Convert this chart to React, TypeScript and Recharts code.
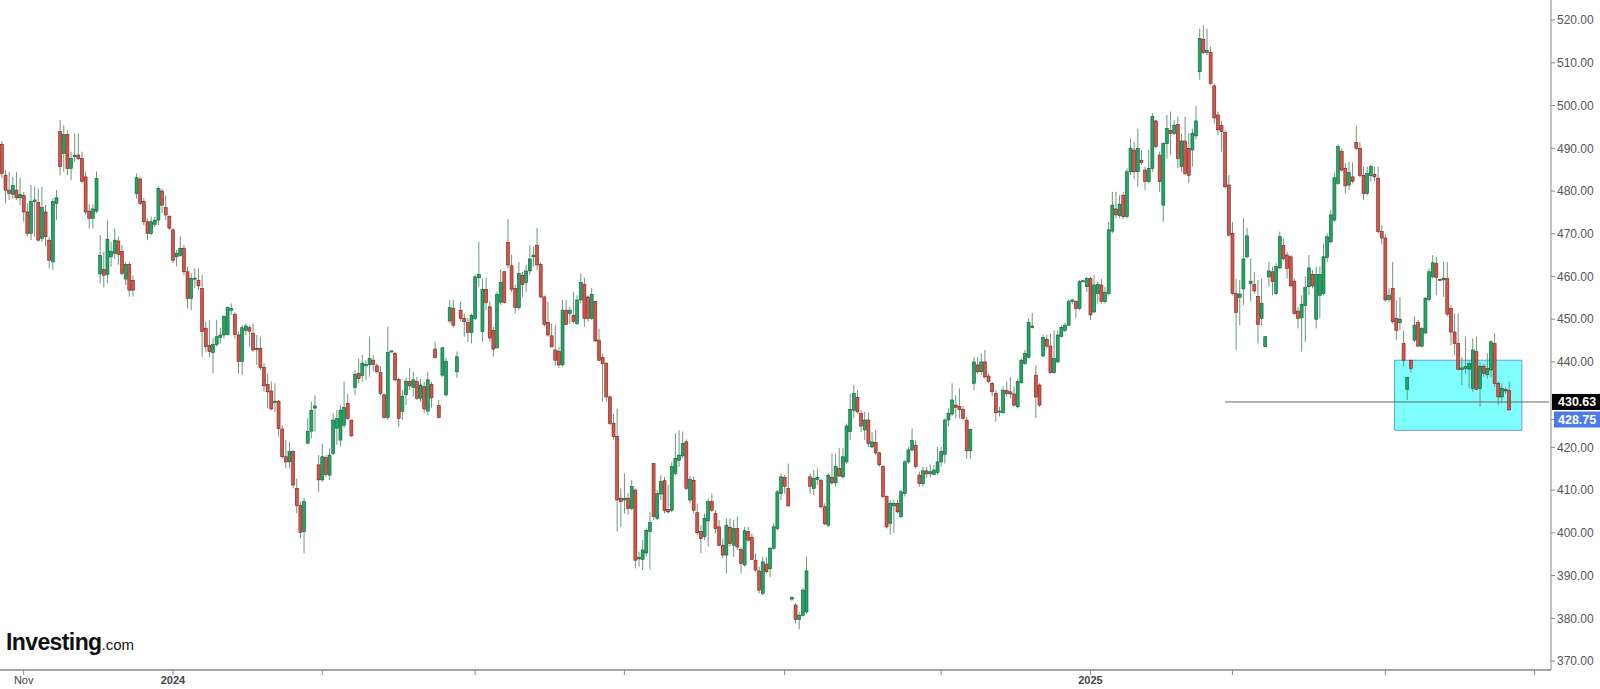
import React from 'react';
import { ComposedChart, Bar, XAxis, YAxis, ReferenceLine, ReferenceArea } from 'recharts';

// ---- Daily OHLC values (Oct 24 2023 .. Jun 20 2025) ----
const OPEN = [
  490.9,483.7,480.2,479.2,480.2,478.4,479.0,475.1,470.1,477.5,
  477.3,468.9,475.1,468.5,463.4,477.1,493.9,488.8,493.2,485.3,
  488.0,488.4,487.6,483.3,475.3,473.6,475.3,460.6,461.6,460.5,
  464.6,465.4,468.3,465.8,459.4,462.8,459.1,479.4,482.8,477.5,
  472.8,470.1,472.2,473.2,480.0,476.1,474.0,470.9,464.6,464.9,
  466.6,461.1,454.9,459.5,459.1,457.2,447.9,443.8,442.2,444.1,
  445.7,446.3,446.4,452.1,451.1,446.3,440.1,447.4,448.0,446.7,
  443.2,443.2,438.7,434.7,433.2,430.5,430.8,424.3,417.8,416.6,
  419.0,410.4,406.4,400.3,421.0,423.8,429.2,415.9,412.4,417.6,
  413.5,418.6,424.5,421.7,425.2,430.3,426.4,434.0,437.3,436.8,
  439.1,439.3,440.4,439.1,437.5,432.3,427.0,442.3,442.0,435.9,
  428.4,432.3,435.4,434.0,435.4,431.5,434.2,428.5,434.7,443.0,
  429.8,436.9,432.3,449.6,452.5,437.7,452.1,450.2,449.2,446.9,
  450.2,459.7,447.1,457.0,452.9,447.4,443.3,454.0,461.1,468.0,
  462.5,457.2,452.7,460.3,458.6,461.3,464.6,467.3,462.8,455.2,
  449.2,446.1,442.8,442.5,439.3,452.1,451.3,450.9,449.0,454.5,
  458.1,455.2,450.2,454.1,445.1,441.0,439.6,431.8,425.6,422.6,
  408.1,407.7,408.1,405.7,410.0,393.9,393.8,395.3,400.3,416.2,
  403.4,409.1,412.2,405.5,405.3,413.9,417.0,418.0,421.3,407.7,
  412.3,404.7,400.3,399.1,402.8,407.3,404.5,401.4,397.1,394.8,
  401.3,397.1,401.0,396.1,392.5,400.3,398.9,393.6,391.1,385.8,
  392.7,391.6,396.4,401.0,409.2,413.0,410.4,384.5,383.1,379.7,
  380.7,381.5,413.1,410.4,412.5,412.3,406.1,401.8,413.0,411.7,
  415.1,413.1,416.6,423.7,428.7,431.7,427.9,424.1,426.4,420.1,
  421.1,418.7,415.5,408.5,402.2,406.3,406.9,403.8,409.2,416.6,
  419.4,420.5,413.5,411.5,414.5,413.8,413.7,414.1,416.6,418.4,
  426.4,427.8,429.9,429.6,428.9,426.4,419.2,435.0,439.3,437.7,
  440.0,436.7,435.0,432.6,428.3,428.1,433.3,433.0,432.5,429.5,
  435.1,439.6,441.1,448.4,436.9,434.6,441.4,445.3,443.7,437.5,
  440.0,446.0,447.4,448.6,454.2,454.1,452.5,458.8,457.6,459.5,
  451.7,456.0,458.0,454.1,456.0,470.6,475.8,474.2,479.0,474.0,
  484.5,489.6,484.5,487.2,484.9,482.2,485.3,496.4,488.4,476.7,
  491.1,494.2,493.5,495.6,485.7,491.7,490.0,489.6,492.9,507.9,
  515.5,512.4,512.4,504.6,497.8,495.3,493.7,481.4,470.1,456.0,
  455.1,457.1,464.6,458.4,458.1,455.3,450.2,443.6,459.9,461.1,
  456.0,462.0,467.3,465.0,464.6,458.9,451.9,450.3,453.2,457.6,
  460.5,450.0,455.6,456.0,464.4,468.1,473.2,481.8,489.3,485.3,
  481.4,483.3,491.4,490.0,483.7,479.4,483.6,483.9,483.0,470.5,
  469.0,454.6,457.2,450.2,449.2,444.3,433.6,440.4,445.1,449.2,
  443.7,446.8,454.6,459.9,463.1,459.3,459.2,459.5,452.5,447.0,
  444.3,438.2,438.5,438.3,433.8,442.4,433.8,439.0,437.0,438.1,
  444.3,435.0,431.8,433.5,433.3,
];
const HIGH = [
  491.7,484.9,484.5,483.3,484.5,483.1,479.8,477.1,481.4,481.0,
  480.6,481.0,476.7,469.3,478.3,480.2,496.6,495.4,494.2,489.2,
  493.5,493.5,489.2,484.5,476.9,476.9,484.6,469.7,465.8,473.2,
  468.1,471.2,469.3,467.3,463.4,463.4,460.3,484.1,483.3,478.3,
  473.6,474.0,474.0,481.0,480.5,479.0,474.4,471.3,466.2,469.3,
  467.4,462.3,460.7,461.9,461.9,460.3,449.4,449.8,445.5,449.8,
  448.0,451.0,452.9,453.7,451.7,447.1,448.6,449.0,448.6,449.0,
  446.3,445.9,439.7,437.3,435.4,435.0,431.1,425.2,421.7,421.3,
  419.4,412.7,407.3,408.1,426.8,430.7,432.2,418.2,420.9,418.2,
  419.8,427.9,428.7,429.9,435.4,432.6,426.4,438.1,440.8,441.6,
  440.4,445.9,441.6,439.7,438.9,432.6,448.2,442.6,442.4,436.3,
  433.4,436.3,438.6,437.7,436.5,436.1,435.4,437.7,435.4,444.7,
  431.1,443.5,441.0,454.5,454.5,442.4,454.2,451.3,450.3,451.3,
  460.5,468.1,459.5,459.7,454.2,448.2,456.4,461.7,461.3,473.4,
  465.1,458.1,463.4,461.1,462.7,467.3,466.9,471.4,463.4,455.6,
  454.0,449.0,448.6,443.5,454.5,454.5,452.9,456.4,455.6,460.7,
  459.7,455.6,457.3,454.2,447.8,442.0,440.0,432.2,427.9,429.1,
  410.4,413.9,409.2,412.4,410.4,395.6,398.3,401.0,404.9,416.2,
  410.0,413.5,413.1,411.2,416.6,423.3,424.0,423.7,421.9,413.3,
  413.1,406.9,401.8,404.5,408.1,409.2,405.3,403.0,398.7,403.4,
  403.4,403.0,403.8,396.7,401.4,401.4,399.9,395.2,392.1,394.4,
  394.4,396.7,402.2,410.0,413.9,413.5,416.2,385.0,383.5,381.5,
  387.0,394.4,413.9,414.7,415.1,412.7,406.9,413.9,418.6,418.6,
  419.8,419.8,425.6,432.6,434.6,433.4,428.7,428.3,428.1,423.6,
  424.0,419.0,415.9,408.8,407.7,407.7,407.7,410.0,417.0,420.1,
  424.4,421.7,414.3,415.5,415.5,416.0,415.9,420.1,420.1,426.8,
  429.1,435.0,432.2,433.8,429.6,427.2,424.4,441.2,441.2,442.0,
  442.8,437.3,435.4,433.4,429.5,434.2,435.4,436.5,434.2,436.1,
  440.8,442.8,450.2,451.5,439.2,435.0,446.3,446.3,446.6,447.4,
  447.4,448.6,449.2,454.5,454.8,454.5,459.2,459.2,459.9,459.9,
  460.3,458.8,459.5,457.6,472.8,479.8,479.8,479.0,479.8,485.3,
  492.3,491.5,494.6,489.6,485.7,489.6,498.2,496.6,489.2,491.5,
  497.8,498.6,496.6,497.4,493.5,497.4,493.5,494.6,499.9,518.0,
  518.8,518.0,513.8,505.2,498.6,496.4,494.2,483.7,472.8,459.5,
  459.2,473.6,471.4,464.2,461.1,459.2,459.5,446.0,463.4,462.3,
  463.1,470.5,468.9,465.8,465.0,459.5,452.9,455.6,460.0,465.0,
  461.5,462.3,462.3,467.7,470.1,475.6,484.3,490.9,490.0,486.5,
  486.8,486.7,495.3,491.5,485.7,485.7,486.1,485.7,485.7,472.0,
  470.0,457.2,463.4,454.5,455.2,447.4,436.5,440.5,450.6,449.8,
  448.2,455.2,461.9,465.0,464.6,459.5,463.4,463.4,453.3,451.3,
  451.3,441.2,445.9,440.4,445.5,445.9,440.0,439.6,442.0,445.1,
  446.7,435.4,435.0,434.0,435.4,
];
const LOW = [
  483.0,477.1,477.9,478.3,477.9,476.7,472.8,469.3,468.5,469.3,
  468.1,468.1,467.0,461.9,461.5,473.2,483.7,484.5,483.7,482.5,
  486.8,487.2,481.8,474.4,471.2,471.2,474.8,458.4,457.4,458.4,
  462.3,464.2,462.7,460.3,458.0,455.3,455.3,478.2,476.7,472.0,
  468.5,469.7,471.6,472.0,474.8,473.2,470.9,463.1,462.3,464.6,
  460.3,452.5,452.1,457.2,456.8,441.2,442.4,441.2,437.3,443.6,
  444.3,445.5,446.2,451.0,445.5,437.3,436.9,446.3,443.6,442.4,
  439.3,438.1,433.0,429.1,428.7,428.3,422.5,417.4,415.1,415.1,
  410.4,404.6,398.7,395.2,420.7,422.1,423.7,409.6,411.9,413.1,
  412.4,418.2,420.6,420.2,424.5,426.4,422.5,432.2,435.0,435.4,
  435.8,436.5,437.7,437.3,432.2,426.8,426.4,442.3,435.4,424.8,
  426.4,429.9,433.4,431.9,431.1,430.7,428.0,427.6,429.3,440.8,
  426.8,436.5,431.9,449.0,448.0,436.3,449.5,445.9,444.7,444.3,
  449.8,457.6,444.7,452.1,444.7,441.2,443.1,453.3,453.7,461.9,
  456.4,451.3,452.1,455.2,456.4,460.3,462.3,461.5,454.9,448.2,
  445.9,443.5,439.1,438.6,438.9,448.6,449.0,449.0,448.6,453.7,
  448.2,449.4,449.8,444.7,440.2,430.7,430.8,425.2,421.8,400.3,
  401.4,404.5,404.2,405.3,391.7,392.1,391.3,394.4,391.4,403.0,
  403.0,407.7,404.5,404.5,404.9,413.5,415.5,417.4,410.0,406.9,
  404.5,399.5,395.2,398.3,396.8,404.9,399.9,396.8,394.0,390.5,
  396.8,394.4,396.0,390.5,392.1,397.9,393.6,390.9,385.8,385.4,
  390.5,389.7,396.0,400.6,407.7,409.2,406.1,384.1,378.8,377.4,
  380.4,381.1,409.2,408.8,411.2,405.7,401.8,401.4,411.2,410.8,
  413.1,412.7,416.2,421.7,426.8,427.9,423.6,421.7,420.1,419.8,
  418.2,415.5,408.1,401.0,399.5,400.0,404.5,403.4,408.5,416.2,
  419.0,415.1,410.8,410.8,412.9,413.0,413.5,413.5,415.5,416.2,
  424.8,427.3,426.8,426.8,426.4,417.4,417.4,433.4,437.2,436.9,
  436.1,435.0,431.9,426.0,427.2,427.9,431.9,431.5,429.5,429.1,
  435.0,439.3,440.8,447.8,426.8,429.5,441.1,443.2,437.2,437.2,
  439.7,445.7,447.0,448.4,453.5,450.2,452.1,458.6,456.4,449.8,
  451.4,453.7,453.7,453.7,455.6,470.1,473.6,473.6,473.4,473.6,
  483.7,482.8,481.0,486.1,480.2,481.8,484.5,490.0,479.8,472.8,
  487.6,488.4,493.1,485.3,484.5,483.7,481.8,485.7,492.1,506.0,
  512.0,511.8,504.8,495.8,493.1,489.2,480.6,469.3,455.6,442.8,
  448.6,453.3,464.2,454.1,456.0,444.3,448.6,443.5,457.6,455.6,
  455.6,461.7,463.8,459.5,457.6,451.0,447.8,442.4,444.7,455.6,
  457.2,447.8,450.2,455.6,463.4,467.7,472.8,481.4,484.5,479.4,
  480.2,481.8,489.6,483.1,477.9,479.0,482.2,482.2,470.1,467.5,
  454.1,454.1,449.0,445.1,447.4,438.9,431.1,437.5,444.7,443.5,
  443.4,446.5,454.1,459.5,455.6,459.0,455.2,450.6,443.9,441.6,
  438.1,434.6,437.3,433.8,433.0,433.4,429.5,436.5,436.1,436.5,
  434.2,429.9,430.3,432.5,428.7,
];
const CLOSE = [
  484.1,480.2,479.4,481.3,478.4,479.2,475.1,470.1,477.5,477.9,
  468.5,476.1,469.3,463.8,477.5,478.4,485.7,493.2,485.3,487.6,
  488.4,487.6,482.3,475.1,473.6,475.8,482.9,464.9,460.3,468.7,
  465.8,468.5,465.2,460.7,462.8,456.8,456.8,483.1,477.1,472.8,
  470.1,472.8,473.2,480.6,476.7,474.4,471.3,463.8,465.4,466.6,
  461.1,454.9,459.5,459.6,457.8,447.1,443.6,442.4,444.1,445.9,
  446.3,450.6,452.7,452.5,446.4,440.1,448.0,448.4,447.2,442.8,
  442.9,438.7,434.4,433.0,429.0,430.8,424.4,417.8,416.6,419.0,
  411.2,406.4,400.1,407.3,423.7,428.7,429.7,412.4,417.8,413.7,
  418.2,426.4,426.8,428.7,429.3,426.8,422.7,437.1,436.1,439.7,
  439.4,440.8,439.4,437.7,432.6,427.0,442.2,442.6,435.8,426.8,
  432.0,435.5,434.4,435.8,431.5,434.6,429.0,435.8,431.6,441.0,
  427.0,443.3,440.1,452.7,448.6,441.2,450.2,449.4,446.9,450.9,
  459.9,460.5,457.0,453.9,445.6,443.0,455.8,458.6,453.9,462.7,
  457.0,452.7,460.7,458.1,461.3,464.1,465.0,462.7,455.2,448.8,
  446.3,443.5,440.4,439.3,452.1,448.8,452.1,449.5,454.5,458.6,
  450.2,450.2,455.8,444.9,440.4,439.6,431.8,425.6,422.5,407.7,
  407.3,408.1,405.7,410.8,393.6,394.3,396.0,400.6,402.4,403.8,
  409.2,412.0,405.2,404.9,415.5,417.4,418.2,420.9,410.4,412.5,
  405.3,400.0,398.7,403.4,407.3,405.3,401.0,397.1,394.8,401.8,
  397.5,401.0,396.7,392.8,400.5,398.3,393.8,391.3,386.6,393.2,
  390.9,396.4,401.4,409.6,413.1,410.9,406.3,384.9,379.7,380.7,
  386.6,391.1,410.9,412.7,413.0,406.1,402.1,413.5,411.7,415.5,
  413.3,417.8,425.0,428.9,432.6,428.3,425.0,426.4,420.9,421.3,
  418.7,415.9,408.5,401.4,406.9,406.9,404.9,409.6,416.6,419.4,
  421.6,415.5,411.5,414.5,413.8,414.3,414.7,416.6,419.0,426.4,
  428.0,431.1,429.4,428.9,426.8,419.2,424.2,440.0,437.7,440.0,
  436.5,435.4,433.0,428.1,428.5,433.4,432.6,432.5,429.9,435.4,
  440.4,442.0,449.2,448.1,431.8,429.9,445.7,443.7,437.5,440.8,
  446.3,448.1,448.6,454.1,454.5,452.5,458.8,459.0,459.5,451.0,
  458.0,458.1,454.2,456.3,470.9,476.7,474.4,476.9,474.0,484.5,
  490.0,484.5,490.0,486.7,482.2,485.3,497.4,490.4,482.2,491.1,
  494.6,493.5,495.4,487.6,491.7,484.1,483.7,493.5,496.4,515.7,
  512.4,512.9,505.2,497.1,494.3,493.9,481.0,469.7,456.0,451.6,
  455.9,464.1,469.5,458.9,456.6,448.8,453.7,445.9,461.3,458.8,
  462.3,469.3,464.2,461.9,457.8,451.3,450.2,453.5,457.4,462.0,
  457.8,460.5,460.5,464.6,469.3,474.4,483.1,490.4,484.9,481.2,
  484.3,482.3,490.0,483.6,479.4,484.1,485.7,483.3,470.5,469.0,
  454.5,455.6,449.4,447.4,450.0,440.4,436.4,438.5,448.6,443.7,
  447.8,454.9,461.1,463.2,459.8,459.2,459.6,451.2,447.0,444.3,
  438.2,438.6,438.9,439.6,442.8,433.6,439.0,437.3,438.5,444.7,
  435.0,431.8,433.8,433.2,428.75,
];

// ---- Calendar (US market days) ----
const START_DAY = '2023-10-24';
const SLOT_COUNT = 426; // trading days on the axis incl. empty ones after the last candle
const HOLIDAYS = [
  '2023-11-23','2023-12-25','2024-01-01','2024-01-15','2024-02-19','2024-03-29',
  '2024-05-27','2024-06-19','2024-07-04','2024-09-02','2024-11-28','2024-12-25',
  '2025-01-01','2025-01-09','2025-01-20','2025-02-17','2025-04-18','2025-05-26',
  '2025-06-19','2025-07-04',
];
const TICK_LABELS: Record<string, string> = { '2023-11': 'Nov', '2024-01': '2024', '2025-01': '2025' };
// 430.00 is covered by the last-price tag in the reference
const Y_TICKS = [370, 380, 390, 400, 410, 420, 440, 450, 460, 470, 480, 490, 500, 510, 520];
const Y_DOMAIN = [367.9, 524.7];

// ---- Annotations ----
const LINE_LEVEL = 430.63;
const LAST_PRICE = 428.75;
const LINE_START_INDEX = 336;
const BOX_START_INDEX = 383;
const BOX_END_INDEX = 417;
const BOX_LOW = 424;
const BOX_HIGH = 440.4;

function tradingDays(start: string, n: number): string[] {
  const out: string[] = [];
  const d = new Date(start + 'T00:00:00Z');
  while (out.length < n) {
    const dow = d.getUTCDay();
    const iso = d.toISOString().slice(0, 10);
    if (dow !== 0 && dow !== 6 && HOLIDAYS.indexOf(iso) < 0) out.push(iso);
    d.setUTCDate(d.getUTCDate() + 1);
  }
  return out;
}

const DATES = tradingDays(START_DAY, SLOT_COUNT);
const DATA = DATES.map((date, i) =>
  i < CLOSE.length
    ? { date, o: OPEN[i], h: HIGH[i], l: LOW[i], c: CLOSE[i], range: [LOW[i], HIGH[i]] }
    : { date, range: null }
);
const X_TICKS = DATES.filter((d, i) => {
  const m = +d.slice(5, 7);
  return m % 2 === 1 && i > 0 && DATES[i - 1].slice(5, 7) !== d.slice(5, 7);
});

const UP = '#22a566';
const UP_EDGE = '#0e5f35';
const DOWN = '#d0574b';
const DOWN_EDGE = '#7d2019';
const WICK = '#6f9580';

const Candle = (props: any) => {
  const { x, y, width, height } = props;
  const p = props.payload || props;
  if (!p || p.c == null || !isFinite(y) || !isFinite(height)) return null;
  const top = Math.min(y, y + height);
  const span = Math.abs(height);
  const k = p.h > p.l ? span / (p.h - p.l) : 0;
  const yAt = (v: number) => top + (p.h - v) * k;
  const cx = x + width / 2;
  const up = p.c >= p.o;
  const y1 = yAt(Math.max(p.o, p.c));
  const y2 = yAt(Math.min(p.o, p.c));
  const bw = Math.max(2, width);
  return (
    <g>
      <line x1={cx} x2={cx} y1={top} y2={top + span} stroke={WICK} strokeWidth={1} />
      <rect
        x={cx - bw / 2}
        y={y1}
        width={bw}
        height={Math.max(1, y2 - y1)}
        fill={up ? UP : DOWN}
        stroke={up ? UP_EDGE : DOWN_EDGE}
        strokeWidth={0.6}
      />
    </g>
  );
};

const DateTick = (props: any) => {
  const { x, y, payload } = props;
  const label = TICK_LABELS[String(payload.value).slice(0, 7)] || '';
  if (!label) return null;
  const isYear = /^\d{4}$/.test(label);
  return (
    <text x={x} y={y} dy="0.75em" textAnchor="middle" fontSize={11} fill="#444" fontWeight={isYear ? 700 : 400}>
      {label}
    </text>
  );
};

const makeTag = (text: string, bg: string, shift: number, withDash: boolean) => (props: any) => {
  const vb = props.viewBox || {};
  const right = (vb.x || 0) + (vb.width || 0);
  const yc = (vb.y || 0) + shift;
  return (
    <g>
      {withDash && <line x1={right} x2={right + 4} y1={yc} y2={yc} stroke="#888" />}
      <rect x={right + (withDash ? 3 : 1)} y={yc - 8} width={49} height={16} fill={bg} />
      <text x={right + 7} y={yc} dy="0.36em" fontSize={12.5} fill="#fff" fontWeight={600}>
        {text}
      </text>
    </g>
  );
};

export default function App() {
  return (
    <div style={{ position: 'relative', width: 1600, height: 689, background: '#fff', fontFamily: 'Arial, "Liberation Sans", sans-serif' }}>
      <style>{'body{margin:0;}'}</style>
      <ComposedChart width={1600} height={689} data={DATA} margin={{ top: 0, right: 0, bottom: 0, left: 0 }} barCategoryGap="10%">
        <XAxis
          dataKey="date"
          ticks={X_TICKS}
          interval={0}
          tick={<DateTick />}
          height={19}
          tickSize={5}
          tickMargin={1}
          axisLine={{ stroke: '#8a8a8a', strokeWidth: 1.5 }}
          tickLine={{ stroke: '#8a8a8a' }}
        />
        <YAxis
          orientation="right"
          domain={Y_DOMAIN}
          ticks={Y_TICKS}
          interval={0}
          allowDataOverflow
          width={49}
          tickSize={4}
          tickMargin={2}
          tickFormatter={(v: number) => v.toFixed(2)}
          tick={{ fill: '#555', fontSize: 12 }}
          axisLine={{ stroke: '#8a8a8a' }}
          tickLine={{ stroke: '#8a8a8a' }}
        />
        <ReferenceArea
          x1={DATES[BOX_START_INDEX]}
          x2={DATES[BOX_END_INDEX]}
          y1={BOX_LOW}
          y2={BOX_HIGH}
          fill="#00ffff"
          fillOpacity={0.5}
          stroke="#6a98d8"
          strokeOpacity={1}
        />
        <Bar dataKey="range" shape={<Candle />} isAnimationActive={false} />
        <ReferenceLine
          segment={[
            { x: DATES[LINE_START_INDEX], y: LINE_LEVEL },
            { x: DATES[SLOT_COUNT - 1], y: LINE_LEVEL },
          ]}
          stroke="#666"
          strokeWidth={1}
        />
        <ReferenceLine y={LINE_LEVEL} stroke="none" label={makeTag(LINE_LEVEL.toFixed(2), '#000', 0, false)} />
        <ReferenceLine y={LAST_PRICE} stroke="none" label={makeTag(LAST_PRICE.toFixed(2), '#4b7be8', 9.5, true)} />
      </ComposedChart>
      <svg width={1600} height={689} style={{ position: 'absolute', left: 0, top: 0, pointerEvents: 'none' }}>
        <text x={6} y={650} fontSize={23} fontWeight={700} letterSpacing={-0.6} fill="#111">
          Investing
          <tspan fontSize={15} fontWeight={400} letterSpacing={0}>.com</tspan>
        </text>
      </svg>
    </div>
  );
}
